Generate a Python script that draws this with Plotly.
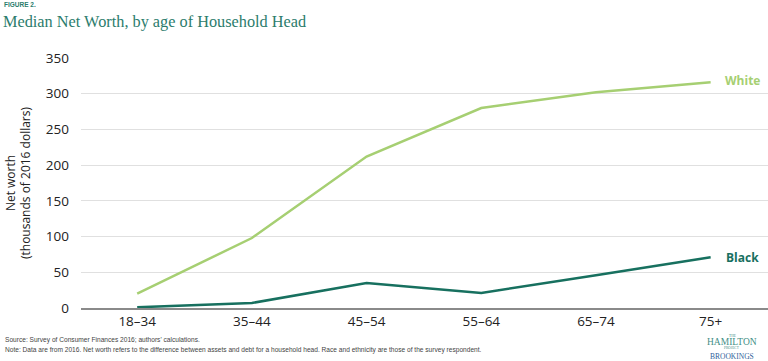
import plotly.graph_objects as go

age_groups = ["18–34", "35–44", "45–54", "55–64", "65–74", "75+"]
white_values = [20, 98, 212, 280, 302, 316]
black_values = [1, 7, 35, 21, 46, 71]
y_ticks = [0, 50, 100, 150, 200, 250, 300, 350]

LIGHT = "#a6cf72"
DARK = "#17705f"
TEAL = "#2b7c6c"

L, T, B = 81, 58, 53
W, H = 768, 361
PW = W - L


def px(x):
    return (x - L) / PW


fig = go.Figure()
fig.add_trace(go.Scatter(x=age_groups, y=white_values, mode="lines",
                         line=dict(color=LIGHT, width=2.5), name="White",
                         showlegend=False))
fig.add_trace(go.Scatter(x=age_groups, y=black_values, mode="lines",
                         line=dict(color=DARK, width=2.5), name="Black",
                         showlegend=False))

fig.add_annotation(x=px(742), y=white_values[-1] + 3, xref="paper", yref="y", text="<b>White</b>",
                   xanchor="center", yanchor="middle",
                   showarrow=False, font=dict(family="Open Sans", size=12, color=LIGHT))
fig.add_annotation(x=px(742), y=black_values[-1], xref="paper", yref="y", text="<b>Black</b>",
                   xanchor="center", yanchor="middle",
                   showarrow=False, font=dict(family="Open Sans", size=12, color=DARK))

# Header
fig.add_annotation(x=px(2), y=1, xref="paper", yref="paper", yanchor="middle", xanchor="left",
                   text="<b>FIGURE 2.</b>", showarrow=False, yshift=T - 4.5,
                   font=dict(family="Liberation Sans", size=6.5, color=TEAL))
fig.add_annotation(x=px(1), y=1, xref="paper", yref="paper", xanchor="left", yanchor="middle",
                   text="Median Net Worth, by age of Household Head", showarrow=False,
                   yshift=T - 21, font=dict(family="Liberation Serif", size=16.3, color=TEAL))

# Footer notes
fig.add_annotation(x=px(3), y=0, xref="paper", yref="paper", xanchor="left", yanchor="middle",
                   text="Source: Survey of Consumer Finances 2016; authors' calculations.",
                   showarrow=False, yshift=-32,
                   font=dict(family="Liberation Sans", size=6.6, color="#444444"))
fig.add_annotation(x=px(3), y=0, xref="paper", yref="paper", xanchor="left", yanchor="middle",
                   text="Note: Data are from 2016. Net worth refers to the difference between assets and debt for a household head. Race and ethnicity are those of the survey respondent.",
                   showarrow=False, yshift=-42,
                   font=dict(family="Liberation Sans", size=6.6, color="#444444"))

# Logo
LOGO_X = px(732)
fig.add_annotation(x=LOGO_X, y=0, xref="paper", yref="paper", xanchor="center", yanchor="middle",
                   text="THE", showarrow=False, yshift=-28,
                   font=dict(family="Liberation Serif", size=3.5, color="#3f8f86"))
fig.add_annotation(x=LOGO_X, y=0, xref="paper", yref="paper", xanchor="center", yanchor="middle",
                   text="HAMILTON", showarrow=False, yshift=-34,
                   font=dict(family="Liberation Serif", size=9.5, color="#3f8f86"))
fig.add_annotation(x=LOGO_X, y=0, xref="paper", yref="paper", xanchor="center", yanchor="middle",
                   text="PROJECT", showarrow=False, yshift=-40,
                   font=dict(family="Liberation Serif", size=3.5, color="#3f8f86"))
fig.add_annotation(x=LOGO_X, y=0, xref="paper", yref="paper", xanchor="center", yanchor="middle",
                   text="BROOKINGS", showarrow=False, yshift=-48,
                   font=dict(family="Liberation Serif", size=7.5, color="#2f5f9a"))

fig.update_layout(
    width=W, height=H,
    margin=dict(l=L, r=0, t=T, b=B),
    plot_bgcolor="white", paper_bgcolor="white",
    font=dict(family="Open Sans", color="#222222"),
    xaxis=dict(range=[-0.49, 5.5], showgrid=False, showline=True, linecolor="#8a8a8a",
               linewidth=1.5, ticks="", tickfont=dict(size=13.5, color="#222222"),
               zeroline=False),
    yaxis=dict(range=[0, 350], tickvals=y_ticks, showgrid=True, gridcolor="#e0e0e0",
               gridwidth=1, zeroline=False, ticks="", showline=False,
               tickfont=dict(size=13.5, color="#222222"), ticklabelstandoff=11,
               title=dict(text="Net worth<br>(thousands of 2016 dollars)",
                          font=dict(size=12, color="#222222"), standoff=12)),
)

fig.write_html("out.html", config={"displayModeBar": False},
               post_script="document.body.style.margin='0';")
